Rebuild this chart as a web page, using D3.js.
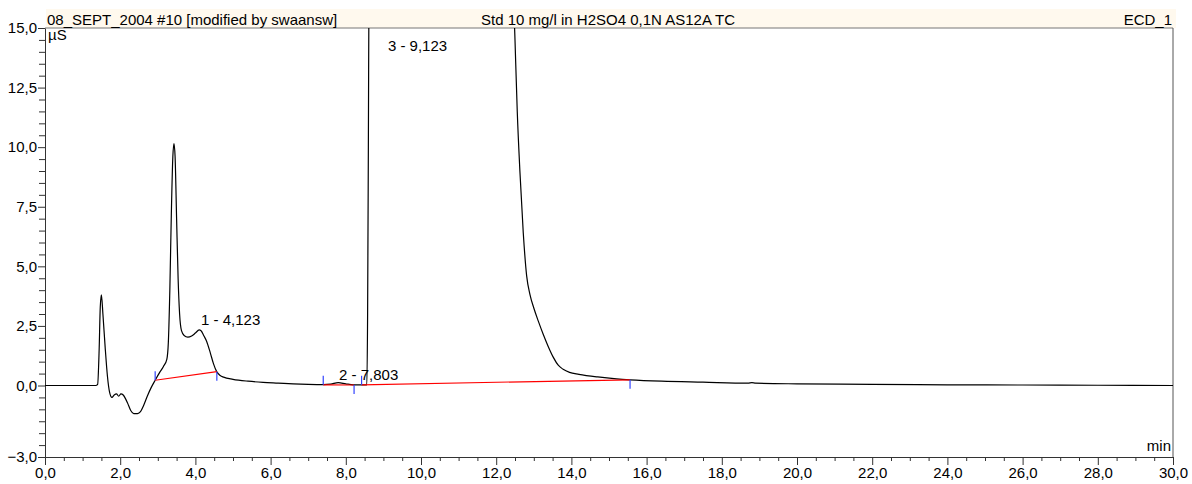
<!DOCTYPE html>
<html>
<head>
<meta charset="utf-8">
<script src="https://cdn.jsdelivr.net/npm/d3@7"></script>
<style>
  body { margin: 0; background: #fff; }
  svg { display: block; font-family: "Liberation Sans", Arial, sans-serif; }
</style>
</head>
<body>
<svg id="chart"></svg>
<script>
// chromatogram trace (time in min, signal in µS)
const times = [0.0, 1.35, 1.40, 1.44, 1.47, 1.50, 1.54, 1.60, 1.66, 1.72, 1.78, 1.84, 1.90, 1.96, 2.02, 2.08,
  2.14, 2.20, 2.28, 2.36, 2.46, 2.54, 2.62, 2.72, 2.82, 2.93, 3.05, 3.15, 3.24, 3.28, 3.32, 3.36, 3.40, 3.43,
  3.46, 3.50, 3.54, 3.58, 3.63, 3.70, 3.80, 3.90, 4.00, 4.10, 4.15, 4.22, 4.30, 4.40, 4.48, 4.57, 4.66, 4.75,
  5.0, 5.4, 5.8, 6.2, 6.6, 7.0, 7.4, 7.6, 7.8, 8.0, 8.2, 8.4, 8.56, 8.58, 8.60, 8.62, 8.7, 12.35, 12.45, 12.50,
  12.56, 12.63, 12.72, 12.81, 12.90, 13.00, 13.12, 13.25, 13.38, 13.52, 13.65, 13.78, 13.95, 14.2, 14.7, 15.2,
  15.56, 16.4, 17.5, 18.7, 18.8, 18.9, 20, 22, 24, 26, 28, 30];
const signal = [0.0, 0.0, 0.05, 1.5, 3.3, 3.8, 3.0, 1.6, 0.4, -0.3, -0.5, -0.4, -0.35, -0.45, -0.35, -0.4,
  -0.55, -0.75, -1.05, -1.18, -1.18, -1.1, -0.85, -0.45, -0.1, 0.22, 0.55, 0.8, 1.1, 1.8, 4.0, 7.2, 9.6, 10.15,
  9.6, 7.0, 4.5, 3.0, 2.3, 2.1, 2.03, 2.08, 2.2, 2.33, 2.3, 2.1, 1.85, 1.35, 0.92, 0.57, 0.42, 0.35,
  0.26, 0.18, 0.13, 0.1, 0.07, 0.05, 0.04, 0.06, 0.12, 0.07, 0.03, 0.03, 0.03, 3.0, 10.0, 18.0, 25.0, 30.0, 17.0, 14.5,
  11.5, 9.0, 6.4, 4.6, 3.8, 3.25, 2.7, 2.15, 1.65, 1.18, 0.85, 0.68, 0.55, 0.47, 0.36, 0.28,
  0.24, 0.18, 0.14, 0.1, 0.12, 0.1, 0.07, 0.05, 0.03, 0.02, 0.01, 0.0];

// integrated peaks: label, label position, integration baseline start/end
const peakNames = ['1 - 4,123', '2 - 7,803', '3 - 9,123'];
const peakLabelAt = [[4.15, 2.55], [7.82, 0.25], [9.12, 14.05]];
const peakStart = [[2.93, 0.22], [7.40, 0.03], [8.42, 0.03]];
const peakEnd = [[4.57, 0.58], [8.22, 0.02], [15.56, 0.24]];

const yMajor = [15, 12.5, 10, 7.5, 5, 2.5, 0, -3];
const xMajor = d3.range(0, 30.01, 2);

const titleLeft = '08_SEPT_2004 #10 [modified by swaansw]';
const titleMid = 'Std 10 mg/l in H2SO4 0,1N AS12A TC';
const titleRight = 'ECD_1';

const width = 1192, height = 484;
const mLeft = 45, mRight = 1173, mTop = 28, mBottom = 457;
const fontSize = 15;

const svg = d3.select('#chart').attr('width', width).attr('height', height);

const x = d3.scaleLinear().domain([0, 30]).range([mLeft, mRight]);
const y = d3.scaleLinear().domain([-3, 15]).range([mBottom, mTop]);

const comma = d => d3.format('.1f')(d).replace('.', ',');

// title bar
svg.append('rect')
  .attr('x', mLeft + 1).attr('y', 9).attr('width', mRight - mLeft + 2).attr('height', mTop - 9)
  .attr('fill', '#fff9ee');
svg.append('line')
  .attr('x1', mLeft).attr('x2', mRight).attr('y1', mTop).attr('y2', mTop)
  .attr('stroke', '#777');
svg.append('line')
  .attr('x1', mRight).attr('x2', mRight).attr('y1', mTop).attr('y2', mBottom)
  .attr('stroke', '#555');

const tt = svg.append('g').attr('font-size', fontSize).attr('fill', '#000');
tt.append('text').attr('x', mLeft + 2).attr('y', mTop - 3).text(titleLeft);
tt.append('text').attr('x', 608).attr('y', mTop - 3).attr('text-anchor', 'middle').text(titleMid);
tt.append('text').attr('x', mRight - 1).attr('y', mTop - 3).attr('text-anchor', 'end').text(titleRight);

// axes
const yMinor = d3.range(-3, 15.01, 0.5).filter(v => !yMajor.includes(v));
const xMinor = d3.range(0, 30.01, 0.5).filter(v => !xMajor.includes(v));

svg.append('g').attr('transform', `translate(${mLeft},0)`)
  .call(d3.axisLeft(y).tickValues(yMajor).tickSize(7).tickPadding(1).tickFormat(comma).tickSizeOuter(0));
svg.append('g').attr('transform', `translate(${mLeft},0)`)
  .call(d3.axisLeft(y).tickValues(yMinor).tickSize(6).tickFormat('').tickSizeOuter(0))
  .select('.domain').remove();

svg.append('g').attr('transform', `translate(0,${mBottom})`)
  .call(d3.axisBottom(x).tickValues(xMajor).tickSize(8).tickPadding(2).tickFormat(comma).tickSizeOuter(0));
svg.append('g').attr('transform', `translate(0,${mBottom})`)
  .call(d3.axisBottom(x).tickValues(xMinor).tickSize(4).tickFormat('').tickSizeOuter(0))
  .select('.domain').remove();

svg.selectAll('.tick text').attr('font-size', fontSize).attr('font-family', '"Liberation Sans", Arial, sans-serif').attr('fill', '#000');
svg.selectAll('.tick line').attr('stroke', '#333');
svg.selectAll('.domain').attr('stroke', '#333');

svg.append('text').attr('x', mLeft + 3).attr('y', mTop + 12).attr('font-size', fontSize).text('µS');
svg.append('text').attr('x', mRight - 2).attr('y', mBottom - 6).attr('font-size', fontSize)
  .attr('text-anchor', 'end').text('min');

// trace
svg.append('clipPath').attr('id', 'plot-clip')
  .append('rect').attr('x', mLeft).attr('y', mTop).attr('width', mRight - mLeft).attr('height', mBottom - mTop);

const line = d3.line()
  .x((d, i) => x(times[i]))
  .y(d => y(d))
  .curve(d3.curveMonotoneX);

const plot = svg.append('g').attr('clip-path', 'url(#plot-clip)');

plot.append('path')
  .attr('d', line(signal))
  .attr('fill', 'none')
  .attr('stroke', '#000')
  .attr('stroke-width', 1.2);

// integration baselines and delimiters
plot.selectAll('.base')
  .data(peakNames.map((n, i) => [peakStart[i], peakEnd[i]]))
  .enter().append('line')
  .attr('x1', d => x(d[0][0])).attr('y1', d => y(d[0][1]))
  .attr('x2', d => x(d[1][0])).attr('y2', d => y(d[1][1]))
  .attr('stroke', '#ff0000').attr('stroke-width', 1.2);

plot.selectAll('.mark-s')
  .data(peakStart).enter().append('line')
  .attr('x1', d => x(d[0])).attr('x2', d => x(d[0]))
  .attr('y1', d => y(d[1])).attr('y2', d => y(d[1]) - 9)
  .attr('stroke', '#3344ff').attr('stroke-width', 1.2);

plot.selectAll('.mark-e')
  .data(peakEnd).enter().append('line')
  .attr('x1', d => x(d[0])).attr('x2', d => x(d[0]))
  .attr('y1', d => y(d[1])).attr('y2', d => y(d[1]) + 9)
  .attr('stroke', '#3344ff').attr('stroke-width', 1.2);

svg.selectAll('.peak-label')
  .data(peakNames).enter().append('text')
  .attr('x', (d, i) => x(peakLabelAt[i][0]))
  .attr('y', (d, i) => y(peakLabelAt[i][1]))
  .attr('font-size', fontSize)
  .text(d => d);
</script>
</body>
</html>
